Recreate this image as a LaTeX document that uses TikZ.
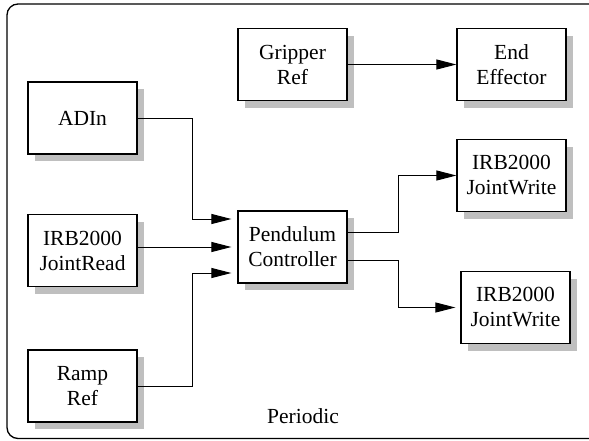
\documentclass[tikz,border=0pt]{standalone}
\usepackage{fontspec}
\setmainfont{Liberation Serif}
\usetikzlibrary{arrows.meta,shadows}
\begin{document}
\begin{tikzpicture}[x=1pt,y=-1pt,
  blk/.style={draw=black,line width=1.2pt,fill=white,minimum width=109pt,minimum height=72pt,
    inner sep=0pt,align=center,font=\fontsize{21.5}{25}\selectfont,
    drop shadow={shadow xshift=7pt,shadow yshift=-7pt,fill=black!25,opacity=1}},
  arr/.style={line width=1pt,-{Triangle[length=20pt,width=10pt]}},
  lbl/.style={font=\fontsize{21.5}{25}\selectfont}]
\useasboundingbox (0,0) rectangle (589,440);
\clip (0,0) rectangle (589,440);
\draw[line width=1.3pt,rounded corners=11pt] (7,4) rectangle (620,438.5);
\node[blk] (adin) at (82.5,118) {ADIn};
\node[blk] (grip) at (292.5,64.5) {Gripper\\Ref};
\node[blk] (endeff) at (511.5,64.5) {End\\Effector};
\node[blk] (jw1) at (511.5,175.5) {IRB2000\\JointWrite};
\node[blk] (jr) at (82.5,250.5) {IRB2000\\JointRead};
\node[blk] (pc) at (292.5,247) {Pendulum\\Controller};
\node[blk] (jw2) at (515.5,307.5) {IRB2000\\JointWrite};
\node[blk] (ramp) at (82.5,386) {Ramp\\Ref};
\node[lbl] (per) at (303,416) {Periodic};
\draw[arr,shorten >=6pt] (adin.east) -- ++(55,0) |- ([yshift=28pt]pc.west);
\draw[arr,shorten >=6pt] (jr.east |- pc.west) -- (pc.west);
\draw[arr,shorten >=6pt] (ramp.east) -- ++(55,0) |- ([yshift=-26pt]pc.west);
\draw[arr] (grip.east) -- (endeff.west);
\draw[arr] ([yshift=15pt]pc.east) -- ++(51,0) |- (jw1.west);
\draw[arr,shorten >=5pt] ([yshift=-13pt]pc.east) -- ++(51,0) |- (jw2.west);
\end{tikzpicture}
\end{document}
